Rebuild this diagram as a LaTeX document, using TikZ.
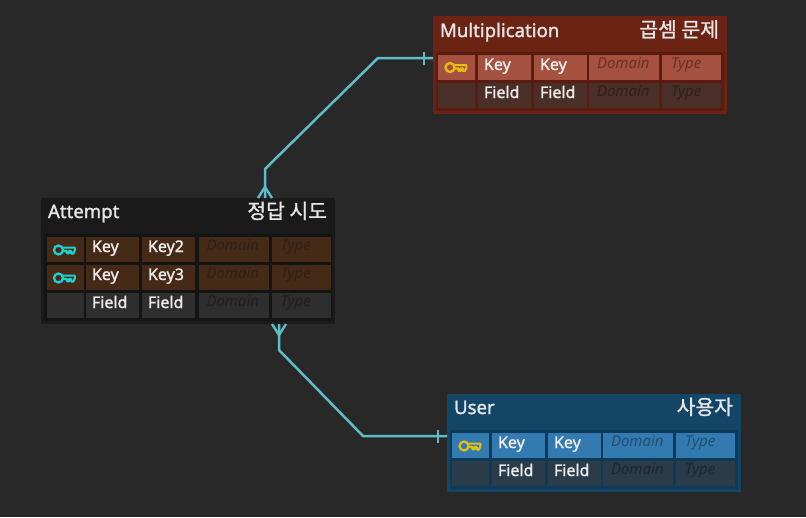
\documentclass[tikz,border=0pt]{standalone}
\usepackage{fontspec}
\setmainfont{Noto Sans}
\newfontfamily\krfont[FakeBold=1.2]{Noto Sans CJK KR}
\newfontfamily\semifont[FakeBold=1.5]{Noto Sans}
\definecolor{bgc}{HTML}{282828}
\definecolor{linkc}{HTML}{5FBDC8}
\definecolor{goldc}{HTML}{E6BE12}
\definecolor{tealc}{HTML}{1FD0D0}
\definecolor{mulbox}{HTML}{6B2314}\definecolor{mulin}{HTML}{5A1C10}\definecolor{mulkey}{HTML}{A5513F}\definecolor{mulfld}{HTML}{4A2E28}\definecolor{muldk}{HTML}{6E2F22}\definecolor{muldf}{HTML}{2F1F1B}
\definecolor{attbox}{HTML}{1A1A1A}\definecolor{attin}{HTML}{141414}\definecolor{attkey}{HTML}{452A18}\definecolor{attfld}{HTML}{2E2E2E}\definecolor{attdk}{HTML}{2F2018}\definecolor{attdf}{HTML}{1F1F1F}
\definecolor{usrbox}{HTML}{134566}\definecolor{usrin}{HTML}{0F3A57}\definecolor{usrkey}{HTML}{337AB0}\definecolor{usrfld}{HTML}{2A3B4A}\definecolor{usrdk}{HTML}{1F4F75}\definecolor{usrdf}{HTML}{1C2833}
\tikzset{
  x=1pt,y=-1pt,
  panel/.style={rectangle,draw=none,inner sep=0pt,outer sep=0pt,anchor=north west},
  titletxt/.style={inner sep=0pt,outer sep=0pt,text=white!90!black,font=\semifont\fontsize{18.6}{21}\selectfont},
  kortxt/.style={inner sep=0pt,outer sep=0pt,text=white!90!black,font=\krfont\fontsize{20.4}{23}\selectfont},
  celltxt/.style={inner sep=0pt,outer sep=0pt,anchor=base west,text=white!92!black,font=\semifont\fontsize{16}{18}\selectfont},
  hinttxt/.style={inner sep=0pt,outer sep=0pt,anchor=base west,font=\itshape\fontsize{15}{17}\selectfont},
  link/.style={draw=linkc,line width=2.5pt,line join=round},
  linkmark/.style={draw=linkc,line width=2.4pt},
}
\newcommand{\colshift}{0}
% prefix, row number, y offset, cell colour, hint colour, label 2, label 3
\newcommand{\tablerow}[7]{%
  \node[panel,fill=#4,minimum width=37pt,minimum height=25pt] (#1-#2-a) at (5+\colshift*0.5,#3) {};
  \node[panel,fill=#4,minimum width=53pt,minimum height=25pt] (#1-#2-b) at (45,#3) {};
  \node[panel,fill=#4,minimum width=53pt,minimum height=25pt] (#1-#2-c) at (101,#3) {};
  \node[panel,fill=#4,minimum width=70pt,minimum height=25pt] (#1-#2-d) at (156+\colshift,#3) {};
  \node[panel,fill=#4,minimum width=59pt,minimum height=25pt] (#1-#2-e) at (229+\colshift,#3) {};
  \node[celltxt] (#1-#2-bt) at (51,#3+15) {#6};
  \node[celltxt] (#1-#2-ct) at (107,#3+15) {#7};
  \node[hinttxt,text=#5] (#1-#2-dt) at (164+\colshift,#3+13.5) {Domain};
  \node[hinttxt,text=#5] (#1-#2-et) at (238+\colshift,#3+13.5) {Type};
}
% key glyph centred at given position
\newcommand{\keyglyph}[3]{%
  \begin{scope}[shift={(#1,#2)}]
    \draw[#3,line width=2.3pt] (-6.5,0) circle (4.5);
    \draw[#3,line width=2.1pt,line join=round] (-2,-2.4) -- (9.8,-2.4) -- (9.8,0.5) -- (8.4,3.6) -- (6.2,3.6) -- (6.2,1) -- (4,1) -- (4,3.2) -- (1.8,3.2) -- (1.8,1) -- (-2,1);
  \end{scope}}
\begin{document}
\begin{tikzpicture}
\useasboundingbox[fill=bgc] (0,0) rectangle (806,517);
% Multiplication
\begin{scope}[shift={(433,16)}]
  \node[panel,fill=mulbox,minimum width=294pt,minimum height=98pt] (mul) at (0,0) {};
  \node[panel,fill=mulin,minimum width=288pt,minimum height=59pt] (mulin) at (3,36) {};
  \node[titletxt,anchor=base west] (mul-t) at (7,21) {Multiplication};
  \node[kortxt,anchor=base east] (mul-k) at (286,21) {곱셈 문제};
  \tablerow{mul}{1}{39}{mulkey}{muldk}{Key}{Key}
  \tablerow{mul}{2}{67}{mulfld}{muldf}{Field}{Field}
  \keyglyph{23.5}{51.5}{goldc}
\end{scope}
% Attempt
\begin{scope}[shift={(41,198)}]
  \renewcommand{\colshift}{1.5}
  \node[panel,fill=attbox,minimum width=294pt,minimum height=126pt] (att) at (0,0) {};
  \node[panel,fill=attin,minimum width=288pt,minimum height=87pt] (attin) at (3,36) {};
  \node[titletxt,anchor=base west] (att-t) at (7,20) {Attempt};
  \node[kortxt,anchor=base east] (att-k) at (286,20.5) {정답 시도};
  \tablerow{att}{1}{39}{attkey}{attdk}{Key}{Key2}
  \tablerow{att}{2}{67}{attkey}{attdk}{Key}{Key3}
  \tablerow{att}{3}{95}{attfld}{attdf}{Field}{Field}
  \keyglyph{24}{52}{tealc}
  \keyglyph{24}{80}{tealc}
\end{scope}
% User
\begin{scope}[shift={(447,394)}]
  \node[panel,fill=usrbox,minimum width=294pt,minimum height=98pt] (usr) at (0,0) {};
  \node[panel,fill=usrin,minimum width=288pt,minimum height=59pt] (usrin) at (3,36) {};
  \node[titletxt,anchor=base west] (usr-t) at (7,20) {User};
  \node[kortxt,anchor=base east] (usr-k) at (286,20.5) {사용자};
  \tablerow{usr}{1}{39}{usrkey}{usrdk}{Key}{Key}
  \tablerow{usr}{2}{67}{usrfld}{usrdf}{Field}{Field}
  \keyglyph{23.5}{52}{goldc}
\end{scope}
% connectors
\coordinate (m1) at (265,169);
\coordinate (m2) at (378,58);
\coordinate (u1) at (279,350);
\coordinate (u2) at (363,436);
\draw[link] ([xshift=77pt]att.north) -- (m1) -- (m2) -- ([yshift=7pt]mul.west);
\draw[link] ([xshift=91pt]att.south) -- (u1) -- (u2) -- ([yshift=7pt]usr.west);
% crow's feet and bars
\draw[linkmark] ([xshift=70pt]att.north) -- ([xshift=77pt,yshift=11pt]att.north) -- ([xshift=84pt]att.north);
\draw[linkmark] ([xshift=84pt]att.south) -- ([xshift=91pt,yshift=-11pt]att.south) -- ([xshift=98pt]att.south);
\draw[linkmark] ([xshift=-9pt,yshift=13.5pt]mul.west) -- ([xshift=-9pt,yshift=0.5pt]mul.west);
\draw[linkmark] ([xshift=-9pt,yshift=13.5pt]usr.west) -- ([xshift=-9pt,yshift=0.5pt]usr.west);
\end{tikzpicture}
\end{document}
